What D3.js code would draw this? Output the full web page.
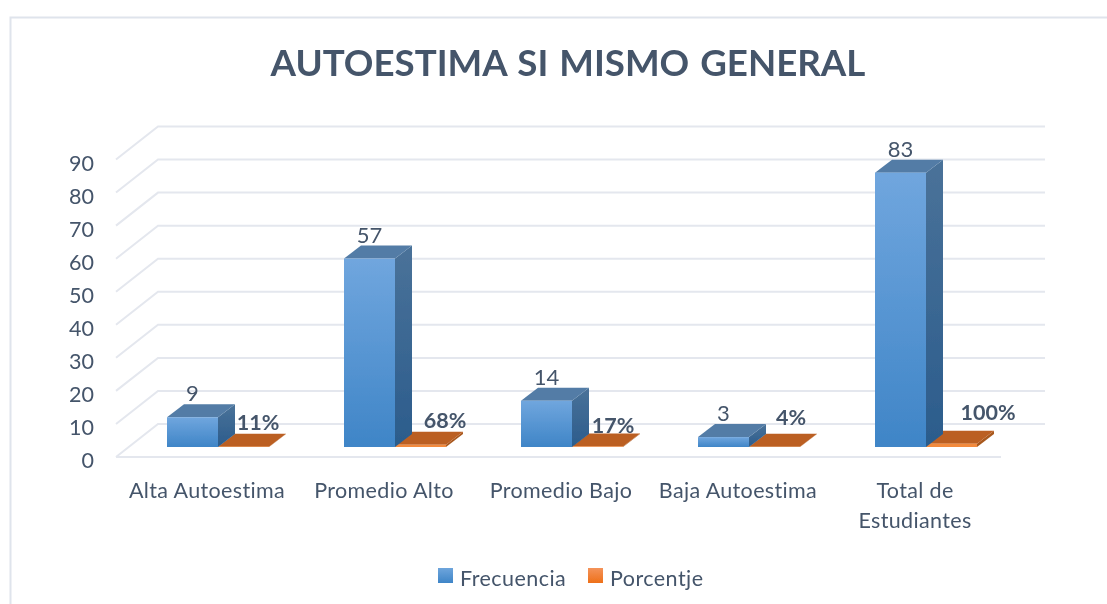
<!DOCTYPE html>
<html><head><meta charset="utf-8">
<script src="https://cdn.jsdelivr.net/npm/d3@7/dist/d3.min.js"></script>
<style>html,body{margin:0;padding:0;background:#fff;overflow:hidden}svg{display:block}text{font-family:Lato,"Open Sans",sans-serif;fill:#44546a}</style>
</head><body><svg id="c" width="1107" height="604"></svg>
<script>
const titleText = "AUTOESTIMA SI MISMO GENERAL";
const categories = [["Alta Autoestima"],["Promedio Alto"],["Promedio Bajo"],["Baja Autoestima"],["Total de","Estudiantes"]];
const frecuencia = [9,57,14,3,83];
const porcentaje = [0.11,0.68,0.17,0.04,1];
const porcentajeLabels = ["11%","68%","17%","4%","100%"];
const seriesNames = ["Frecuencia","Porcentje"];
const yTicks = [0,10,20,30,40,50,60,70,80,90];

// hand-placed label offsets of the percent labels, as in the reference
const pctNudgeX = [40,50,41,42,62];
const pctNudgeY = [-17,-19,-14,-22,-27];

const svg = d3.select("#c");
const defs = svg.append("defs");
function grad(id,a,b){
  const g = defs.append("linearGradient").attr("id",id).attr("x1",0).attr("y1",0).attr("x2",0).attr("y2",1);
  g.append("stop").attr("offset","0%").attr("stop-color",a);
  g.append("stop").attr("offset","100%").attr("stop-color",b);
}
grad("blueFront","#70a6de","#3f85c7");
grad("blueSide","#4a7299","#2b5c8c");
grad("legBlue","#6ea5dc","#3f85c7");
grad("legOrange","#f4935a","#ee7019");
defs.append("filter").attr("id","soft").append("feGaussianBlur").attr("stdDeviation",0.5);

const root = svg.append("g").attr("filter","url(#soft)");
// frame
root.append("path").attr("d","M10.5,604V17.5H1107").attr("fill","none").attr("stroke","#dfe4ec").attr("stroke-width",2);

root.append("text").attr("x",568).attr("y",76).attr("text-anchor","middle")
  .attr("font-size",36.7).attr("font-weight",700).attr("word-spacing",2).text(titleText);

const depthX = 42, depthY = 33;     // floor depth
const barDX = 17, barDY = 13;       // bar depth
const y = d3.scaleLinear().domain([0,90]).range([457,159.5]);
const yBar = v => y(v) - 10;        // bars stand 10px behind the front edge
const x = d3.scaleBand().domain(d3.range(categories.length)).range([116,1001]);
const bw = 51, barOffset = 51;

// grid
const grid = root.append("g").attr("fill","none").attr("stroke","#e4e7ee").attr("stroke-width",2);
yTicks.forEach(t=>{
  const yy = y(t);
  if(t===0) grid.append("path").attr("d",`M${x.range()[0]},${yy}H${x.range()[1]}`);
  grid.append("path").attr("d",`M${x.range()[0]},${yy}L${x.range()[0]+depthX},${yy-depthY}H${x.range()[1]+depthX+2}`);
});

// y tick labels
root.append("g").selectAll("text").data(yTicks).join("text")
  .attr("x",94).attr("y",d=>y(d)+11).attr("text-anchor","end").attr("font-size",21.5).text(d=>d);

function bar3d(g,x0,v,front,side,top){
  const t = yBar(v), b = yBar(0), r = x0+bw;
  g.append("path").attr("d",`M${r},${t}L${r+barDX},${t-barDY}V${b-barDY}L${r},${b}Z`).attr("fill",side);
  g.append("path").attr("d",`M${x0},${t}L${x0+barDX},${t-barDY}H${r+barDX}L${r},${t}Z`).attr("fill",top);
  g.append("rect").attr("x",x0).attr("y",t).attr("width",bw).attr("height",b-t).attr("fill",front);
}
const bars = root.append("g");
const labels = root.append("g");
categories.forEach((c,i)=>{
  const x0 = x(i)+barOffset;
  bar3d(bars,x0+bw,porcentaje[i],"#f28a3c","#a8581f","#bb5f22");
  bar3d(bars,x0,frecuencia[i],"url(#blueFront)","url(#blueSide)","#527ca6");
  labels.append("text").attr("x",x0+bw/2).attr("y",yBar(frecuencia[i])-barDY-3)
    .attr("text-anchor","middle").attr("font-size",22).text(frecuencia[i]);
  labels.append("text").attr("x",x0+bw+pctNudgeX[i]).attr("y",yBar(0)+pctNudgeY[i])
    .attr("text-anchor","middle").attr("font-size",21.5).attr("font-weight",700).text(porcentajeLabels[i]);
  const lab = labels.append("text").attr("text-anchor","middle").attr("font-size",21.5).attr("letter-spacing",0.35);
  c.forEach((s,k)=>lab.append("tspan").attr("x",x0+40).attr("y",498+k*30).text(s));
});

// legend
const legend = root.append("g");
const legendX = [438,588], legendFill = ["url(#legBlue)","url(#legOrange)"];
seriesNames.forEach((n,i)=>{
  legend.append("rect").attr("x",legendX[i]).attr("y",568).attr("width",15).attr("height",15).attr("fill",legendFill[i]);
  legend.append("text").attr("x",legendX[i]+22).attr("y",586).attr("font-size",21.5).attr("letter-spacing",0.45).text(n);
});
</script></body></html>
